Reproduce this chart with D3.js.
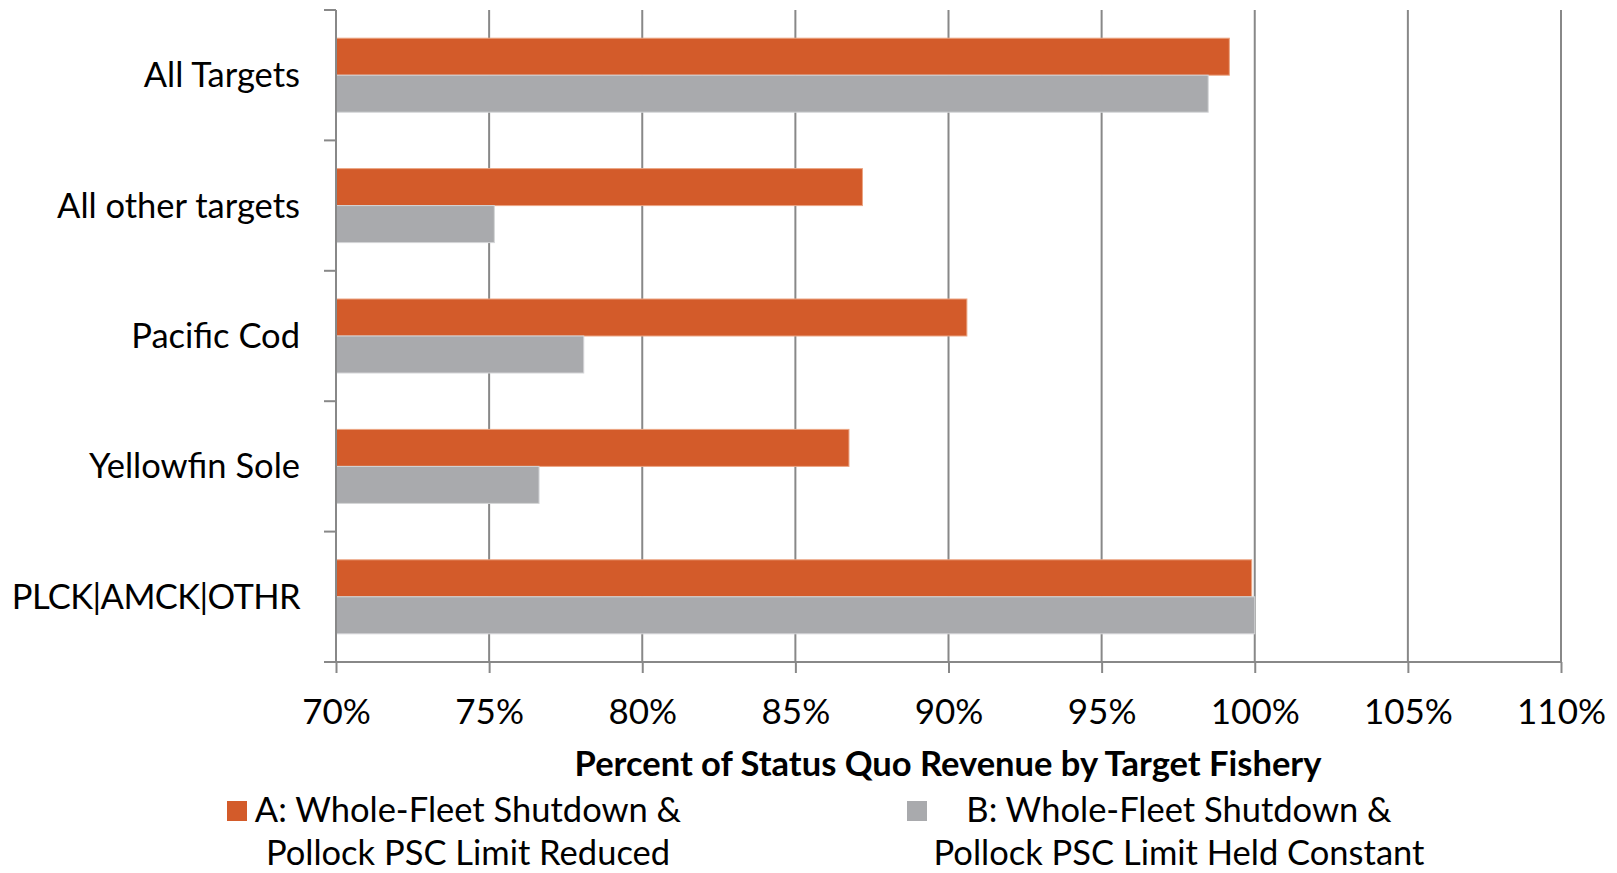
<!DOCTYPE html>
<html>
<head>
<meta charset="utf-8">
<script src="https://cdn.jsdelivr.net/npm/d3@7"></script>
<style>
  html, body { margin: 0; padding: 0; background: #fff; }
  svg { display: block; }
  text { font-family: Lato, "Open Sans", sans-serif; fill: #000; }
</style>
</head>
<body>
<svg id="chart" width="1617" height="873"></svg>
<script>
const categories = ["All Targets", "All other targets", "Pacific Cod", "Yellowfin Sole", "PLCK|AMCK|OTHR"];
const seriesA = [0.9917, 0.8719, 0.9060, 0.8675, 0.9990];
const seriesB = [0.9848, 0.7517, 0.7809, 0.7663, 1.0000];
const seriesNames = ["A: Whole-Fleet Shutdown &\nPollock PSC Limit Reduced", "B: Whole-Fleet Shutdown &\nPollock PSC Limit Held Constant"];
const xTicks = [0.70, 0.75, 0.80, 0.85, 0.90, 0.95, 1.00, 1.05, 1.10];
const xTitle = "Percent of Status Quo Revenue by Target Fishery";

(function () {
const colors = ["#D35B2A", "#A9AAAD"];
const edge = ["#EBA583", "#D4D5D7"];
const axisColor = "#888888";

const svg = d3.select("#chart");
const pLeft = 336, pRight = 1561, pTop = 10, pBottom = 662;

const x = d3.scaleLinear().domain([0.70, 1.10]).range([pLeft, pRight]);
const y = d3.scaleBand().domain(categories).range([pTop, pBottom]).padding(0);
const keys = ["A", "B"];
const ySub = d3.scaleBand().domain(keys).range([0, y.bandwidth()]).paddingInner(0).paddingOuter(0.762);

const data = categories.map((c, i) => ({ cat: c, A: seriesA[i], B: seriesB[i] }));

// vertical gridlines (excluding the axis at 70%)
svg.append("g").selectAll("line").data(xTicks.filter(t => t > 0.70)).join("line")
  .attr("x1", d => x(d)).attr("x2", d => x(d))
  .attr("y1", pTop).attr("y2", pBottom)
  .attr("stroke", axisColor).attr("stroke-width", 2);

// bars
const groups = svg.append("g").selectAll("g").data(data).join("g")
  .attr("transform", d => `translate(0,${y(d.cat)})`);
groups.selectAll("rect").data(d => keys.map((k, i) => ({ k, i, v: d[k] }))).join("rect")
  .attr("x", x(0.70))
  .attr("y", d => ySub(d.k))
  .attr("width", d => x(d.v) - x(0.70))
  .attr("height", ySub.bandwidth())
  .attr("fill", d => colors[d.i])
  .attr("stroke", d => edge[d.i])
  .attr("stroke-width", 1);

// x axis
const xAxis = d3.axisBottom(x).tickValues(xTicks).tickFormat(d3.format(".0%")).tickSize(11).tickPadding(26);
const gx = svg.append("g").attr("transform", `translate(0,${pBottom})`).call(xAxis);
gx.select(".domain").attr("stroke", axisColor).attr("stroke-width", 2).attr("d", `M${pLeft - 12},0H${pRight}`);
gx.selectAll(".tick line").attr("stroke", axisColor).attr("stroke-width", 2);
gx.selectAll(".tick text").attr("font-size", 35).attr("font-family", "Lato, sans-serif").attr("fill", "#000").attr("dy", "0.71em");

// y axis
const gy = svg.append("g").attr("transform", `translate(${pLeft},0)`);
gy.append("line").attr("x1", 0).attr("x2", 0).attr("y1", pTop).attr("y2", pBottom)
  .attr("stroke", axisColor).attr("stroke-width", 2);
const bounds = categories.map(c => y(c)).concat([pBottom]);
gy.selectAll("line.tk").data(bounds).join("line").attr("class", "tk")
  .attr("x1", -12).attr("x2", 0).attr("y1", d => d).attr("y2", d => d)
  .attr("stroke", axisColor).attr("stroke-width", 2);
gy.selectAll("text").data(categories).join("text")
  .attr("x", -36).attr("y", d => y(d) + y.bandwidth() / 2 + 12)
  .attr("text-anchor", "end").attr("font-size", 34.5)
  .attr("letter-spacing", d => d.includes("|") ? -0.6 : 0)
  .text(d => d);

// x title
svg.append("text").attr("x", 948).attr("y", 776).attr("text-anchor", "middle")
  .attr("font-size", 34.5).attr("font-weight", "bold").text(xTitle);

// legend
const legendX = [227, 907];
const legendTextX = [468, 1179];
seriesNames.forEach((name, i) => {
  const g = svg.append("g");
  g.append("rect").attr("x", legendX[i]).attr("y", 801).attr("width", 20).attr("height", 20).attr("fill", colors[i]);
  const t = g.append("text").attr("text-anchor", "middle").attr("font-size", 34.5);
  name.split("\n").forEach((line, j) => {
    t.append("tspan").attr("x", legendTextX[i]).attr("y", 822 + j * 43).text(line);
  });
});
})();
</script>
</body>
</html>
